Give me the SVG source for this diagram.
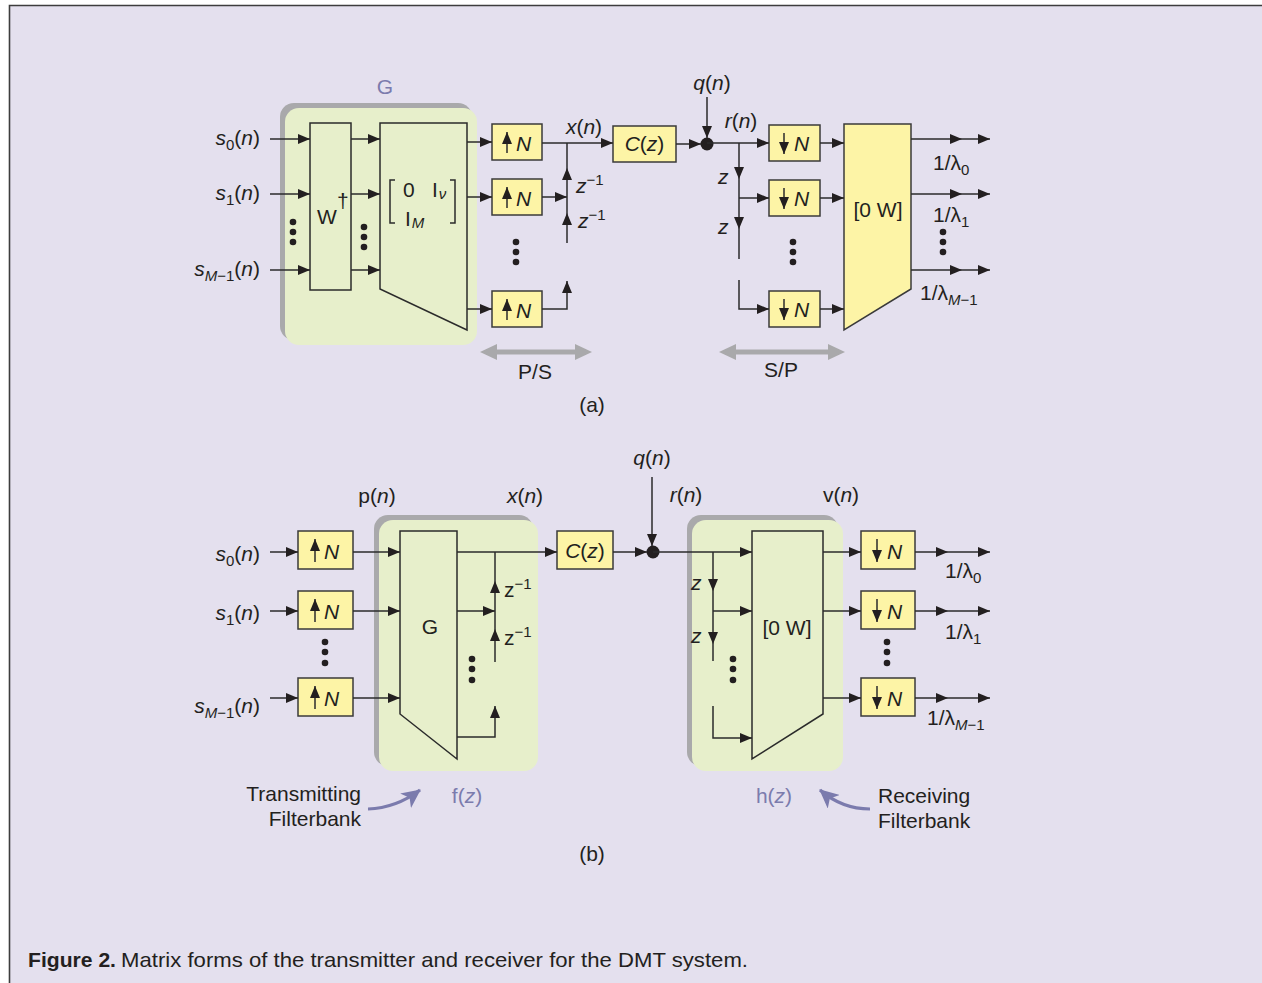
<svg xmlns="http://www.w3.org/2000/svg" width="1262" height="983" viewBox="0 0 1262 983">
<defs>
<marker id="ah" markerUnits="userSpaceOnUse" markerWidth="12" markerHeight="10" refX="12" refY="5" orient="auto"><path d="M0,0 L12,5 L0,10 z" fill="#231f20"/></marker>
<marker id="ap" markerUnits="userSpaceOnUse" markerWidth="20" markerHeight="18" refX="18" refY="9" orient="auto"><path d="M0,0 L19,9 L0,18 L5,9 z" fill="#7b7bad"/></marker>
<style>
.t{font-family:"Liberation Sans",Arial,sans-serif;font-size:21px;fill:#231f20}
.i{font-style:italic}
.p{fill:#7b7bad}
.ln{stroke:#2b2b2b;stroke-width:1.5;fill:none}
.ar{stroke:#2b2b2b;stroke-width:1.5;fill:none;marker-end:url(#ah)}
.box{fill:#fdf4a6;stroke:#3a3a3a;stroke-width:1.5}
.sh{fill:#a9a9ab}
.gr{fill:#e7efcb}
.dot{fill:#231f20}
.gray{fill:#a9a9ab}
</style>
</defs>
<rect x="0" y="0" width="1262" height="983" fill="#ffffff"/>
<rect x="9" y="5" width="1253" height="978" fill="#e4e0ee"/>
<path d="M9.5,983 V5.5 H1262" fill="none" stroke="#3d3d3d" stroke-width="1.6"/>

<!-- ===== (a) ===== -->
<g id="a-G">
<rect class="sh" x="280" y="103" width="192" height="237" rx="14"/>
<rect class="gr" x="285" y="108" width="192" height="237" rx="14"/>
<text class="t p" x="385" y="94" text-anchor="middle">G</text>
</g>
<g id="a-W">
<rect x="310" y="123" width="41" height="167" fill="none" stroke="#2b2b2b" stroke-width="1.5"/>
<text class="t" x="317" y="224" font-size="19">W</text>
<text class="t" x="337" y="208" font-size="13">†</text>
</g>
<g id="a-trap">
<polygon points="380,123 467,123 467,330 380,289" fill="none" stroke="#2b2b2b" stroke-width="1.5"/>
<path class="ln" d="M395,180 H390 V223 H395 M450,180 H455 V223 H450"/>
<text class="t" x="403" y="197" font-size="18">0</text>
<text class="t" x="432" y="197" font-size="18">I<tspan class="i" font-size="15" dx="1" dy="2">ν</tspan></text>
<text class="t" x="405" y="226" font-size="18">I<tspan class="i" font-size="15" dx="1" dy="2">M</tspan></text>
</g>
<g id="a-inputs">
<text class="t" x="260" y="145" text-anchor="end"><tspan class="i">s</tspan><tspan font-size="15" dy="5">0</tspan><tspan dy="-5">(</tspan><tspan class="i">n</tspan>)</text>
<text class="t" x="260" y="200" text-anchor="end"><tspan class="i">s</tspan><tspan font-size="15" dy="5">1</tspan><tspan dy="-5">(</tspan><tspan class="i">n</tspan>)</text>
<text class="t" x="260" y="276" text-anchor="end"><tspan class="i">s</tspan><tspan class="i" font-size="15" dy="5">M</tspan><tspan font-size="15">−1</tspan><tspan dy="-5">(</tspan><tspan class="i">n</tspan>)</text>
<circle class="dot" cx="293" cy="222" r="3.3"/><circle class="dot" cx="293" cy="232" r="3.3"/><circle class="dot" cx="293" cy="242" r="3.3"/>
<circle class="dot" cx="364" cy="227" r="3.3"/><circle class="dot" cx="364" cy="237" r="3.3"/><circle class="dot" cx="364" cy="247" r="3.3"/>
</g>
<g id="a-up1"><rect class="box" x="492" y="124" width="50" height="36"/><path class="ar" d="M507,153 V132"/><text class="t i" x="516" y="151">N</text></g>
<g id="a-up2"><rect class="box" x="492" y="179" width="50" height="36"/><path class="ar" d="M507,208 V187"/><text class="t i" x="516" y="206">N</text></g>
<g id="a-up3"><rect class="box" x="492" y="291" width="50" height="36"/><path class="ar" d="M507,320 V299"/><text class="t i" x="516" y="318">N</text></g>
<circle class="dot" cx="516" cy="242" r="3.3"/><circle class="dot" cx="516" cy="252" r="3.3"/><circle class="dot" cx="516" cy="262" r="3.3"/>
<g id="a-C"><rect class="box" x="613" y="126" width="63" height="36"/><text class="t" x="644.5" y="151" text-anchor="middle"><tspan class="i">C</tspan>(<tspan class="i">z</tspan>)</text></g>
<g id="a-junction"><circle class="dot" cx="707" cy="144" r="6.5"/></g>
<g id="a-dn1"><rect class="box" x="769" y="125" width="51" height="36"/><path class="ar" d="M784,133 V154"/><text class="t i" x="794" y="151">N</text></g>
<g id="a-dn2"><rect class="box" x="769" y="180" width="51" height="36"/><path class="ar" d="M784,188 V209"/><text class="t i" x="794" y="206">N</text></g>
<g id="a-dn3"><rect class="box" x="769" y="291" width="51" height="36"/><path class="ar" d="M784,299 V320"/><text class="t i" x="794" y="317">N</text></g>
<circle class="dot" cx="793" cy="242" r="3.3"/><circle class="dot" cx="793" cy="252" r="3.3"/><circle class="dot" cx="793" cy="262" r="3.3"/>
<g id="a-0W"><polygon points="844,124 911,124 911,289 844,330" fill="#fdf4a6" stroke="#3a3a3a" stroke-width="1.5"/><text class="t" x="878" y="217" text-anchor="middle">[0 W]</text></g>
<g id="a-labels">
<text class="t" x="584" y="134" text-anchor="middle"><tspan class="i">x</tspan>(<tspan class="i">n</tspan>)</text>
<text class="t" x="712" y="90" text-anchor="middle"><tspan class="i">q</tspan>(<tspan class="i">n</tspan>)</text>
<text class="t" x="741" y="128" text-anchor="middle"><tspan class="i">r</tspan>(<tspan class="i">n</tspan>)</text>
<text class="t" x="576" y="193"><tspan class="i">z</tspan><tspan font-size="15" dy="-8">−1</tspan></text>
<text class="t" x="578" y="228"><tspan class="i">z</tspan><tspan font-size="15" dy="-8">−1</tspan></text>
<text class="t i" x="718" y="184">z</text>
<text class="t i" x="718" y="234">z</text>
<text class="t" x="933" y="170" font-size="20">1/λ<tspan font-size="15" dy="5">0</tspan></text>
<text class="t" x="933" y="222" font-size="20">1/λ<tspan font-size="15" dy="5">1</tspan></text>
<text class="t" x="920" y="300" font-size="20">1/λ<tspan class="i" font-size="15" dy="5">M</tspan><tspan font-size="15">−1</tspan></text>
<circle class="dot" cx="943" cy="232" r="3.3"/><circle class="dot" cx="943" cy="242" r="3.3"/><circle class="dot" cx="943" cy="252" r="3.3"/>
<polygon class="gray" points="480,352 497,344 497,349.5 575,349.5 575,344 592,352 575,360 575,354.5 497,354.5 497,360"/>
<polygon class="gray" points="719,352 736,344 736,349.5 828,349.5 828,344 845,352 828,360 828,354.5 736,354.5 736,360"/>
<text class="t" x="535" y="379" text-anchor="middle">P/S</text>
<text class="t" x="781" y="377" text-anchor="middle">S/P</text>
<text class="t" x="592" y="412" text-anchor="middle" font-size="20">(a)</text>
</g>

<!-- ===== (b) ===== -->
<g id="b-f">
<rect class="sh" x="374" y="515" width="159" height="251" rx="14"/>
<rect class="gr" x="379" y="520" width="159" height="251" rx="14"/>
<polygon points="400,531 457,531 457,759 400,714" fill="none" stroke="#2b2b2b" stroke-width="1.5"/>
<text class="t" x="430" y="634" text-anchor="middle">G</text>
<circle class="dot" cx="472" cy="659" r="3.3"/><circle class="dot" cx="472" cy="669" r="3.3"/><circle class="dot" cx="472" cy="680" r="3.3"/>
<text class="t" x="504" y="597">z<tspan font-size="15" dy="-8">−1</tspan></text>
<text class="t" x="504" y="645">z<tspan font-size="15" dy="-8">−1</tspan></text>
</g>
<g id="b-h">
<rect class="sh" x="687" y="515" width="151" height="251" rx="14"/>
<rect class="gr" x="692" y="520" width="151" height="251" rx="14"/>
<polygon points="752,531 823,531 823,714 752,759" fill="none" stroke="#2b2b2b" stroke-width="1.5"/>
<text class="t" x="787" y="635" text-anchor="middle">[0 W]</text>
<circle class="dot" cx="733" cy="659" r="3.3"/><circle class="dot" cx="733" cy="669" r="3.3"/><circle class="dot" cx="733" cy="680" r="3.3"/>
<text class="t i" x="691" y="590">z</text>
<text class="t i" x="691" y="643">z</text>
</g>
<g id="b-inputs">
<text class="t" x="260" y="561" text-anchor="end"><tspan class="i">s</tspan><tspan font-size="15" dy="5">0</tspan><tspan dy="-5">(</tspan><tspan class="i">n</tspan>)</text>
<text class="t" x="260" y="620" text-anchor="end"><tspan class="i">s</tspan><tspan font-size="15" dy="5">1</tspan><tspan dy="-5">(</tspan><tspan class="i">n</tspan>)</text>
<text class="t" x="260" y="713" text-anchor="end"><tspan class="i">s</tspan><tspan class="i" font-size="15" dy="5">M</tspan><tspan font-size="15">−1</tspan><tspan dy="-5">(</tspan><tspan class="i">n</tspan>)</text>
<circle class="dot" cx="325" cy="642" r="3.3"/><circle class="dot" cx="325" cy="652" r="3.3"/><circle class="dot" cx="325" cy="663" r="3.3"/>
</g>
<g id="b-up1"><rect class="box" x="298" y="531" width="55" height="38"/><path class="ar" d="M315,562 V539"/><text class="t i" x="324" y="559">N</text></g>
<g id="b-up2"><rect class="box" x="298" y="591" width="55" height="38"/><path class="ar" d="M315,622 V599"/><text class="t i" x="324" y="619">N</text></g>
<g id="b-up3"><rect class="box" x="298" y="678" width="55" height="38"/><path class="ar" d="M315,709 V686"/><text class="t i" x="324" y="706">N</text></g>
<g id="b-C"><rect class="box" x="557" y="531" width="56" height="38"/><text class="t" x="585" y="558" text-anchor="middle"><tspan class="i">C</tspan>(<tspan class="i">z</tspan>)</text></g>
<g id="b-junction"><circle class="dot" cx="653" cy="552" r="6.5"/></g>
<g id="b-dn1"><rect class="box" x="861" y="531" width="54" height="38"/><path class="ar" d="M877,539 V562"/><text class="t i" x="887" y="559">N</text></g>
<g id="b-dn2"><rect class="box" x="861" y="591" width="54" height="38"/><path class="ar" d="M877,599 V622"/><text class="t i" x="887" y="619">N</text></g>
<g id="b-dn3"><rect class="box" x="861" y="678" width="54" height="38"/><path class="ar" d="M877,686 V709"/><text class="t i" x="887" y="706">N</text></g>
<g id="b-labels">
<text class="t" x="377" y="503" text-anchor="middle">p(<tspan class="i">n</tspan>)</text>
<text class="t" x="525" y="503" text-anchor="middle"><tspan class="i">x</tspan>(<tspan class="i">n</tspan>)</text>
<text class="t" x="652" y="465" text-anchor="middle"><tspan class="i">q</tspan>(<tspan class="i">n</tspan>)</text>
<text class="t" x="686" y="502" text-anchor="middle"><tspan class="i">r</tspan>(<tspan class="i">n</tspan>)</text>
<text class="t" x="841" y="502" text-anchor="middle">v(<tspan class="i">n</tspan>)</text>
<text class="t" x="945" y="578" font-size="20">1/λ<tspan font-size="15" dy="5">0</tspan></text>
<text class="t" x="945" y="639" font-size="20">1/λ<tspan font-size="15" dy="5">1</tspan></text>
<text class="t" x="927" y="725" font-size="20">1/λ<tspan class="i" font-size="15" dy="5">M</tspan><tspan font-size="15">−1</tspan></text>
<circle class="dot" cx="887" cy="642" r="3.3"/><circle class="dot" cx="887" cy="652" r="3.3"/><circle class="dot" cx="887" cy="663" r="3.3"/>
<text class="t p" x="467" y="803" text-anchor="middle">f(<tspan class="i">z</tspan>)</text>
<text class="t p" x="774" y="803" text-anchor="middle">h(<tspan class="i">z</tspan>)</text>
<text class="t" x="361" y="801" text-anchor="end">Transmitting</text>
<text class="t" x="361" y="826" text-anchor="end">Filterbank</text>
<text class="t" x="878" y="803">Receiving</text>
<text class="t" x="878" y="828">Filterbank</text>
<text class="t" x="592" y="861" text-anchor="middle" font-size="20">(b)</text>
</g>

<g id="connectors">
<path class="ar" d="M270,139 H310"/><path class="ar" d="M270,194 H310"/><path class="ar" d="M270,270 H310"/>
<path class="ar" d="M351,139 H380"/><path class="ar" d="M351,194 H380"/><path class="ar" d="M351,270 H380"/>
<path class="ar" d="M467,142 H492"/><path class="ar" d="M467,197 H492"/><path class="ar" d="M467,309 H492"/>
<path class="ar" d="M542,143 H613"/>
<path class="ar" d="M542,197 H567"/>
<path class="ar" d="M567,243 V213"/><path class="ar" d="M567,213 V168"/><path class="ln" d="M567,168 V143"/>
<path class="ar" d="M542,309 H567 V281"/>
<path class="ar" d="M676,144 H701"/>
<path class="ar" d="M707,97 V138"/>
<path class="ar" d="M707,143 H769"/>
<path class="ar" d="M739,143 V179"/><path class="ar" d="M739,179 V229"/><path class="ln" d="M739,229 V259"/>
<path class="ar" d="M739,198 H769"/>
<path class="ar" d="M739,280 V309 H769"/>
<path class="ar" d="M820,143 H844"/><path class="ar" d="M820,198 H844"/><path class="ar" d="M820,309 H844"/>
<path class="ar" d="M911,139 H962"/><path class="ar" d="M962,139 H990"/>
<path class="ar" d="M911,194 H962"/><path class="ar" d="M962,194 H990"/>
<path class="ar" d="M911,270 H962"/><path class="ar" d="M962,270 H990"/>
<path class="ar" d="M270,552 H298"/><path class="ar" d="M270,611 H298"/><path class="ar" d="M270,698 H298"/>
<path class="ar" d="M353,552 H400"/><path class="ar" d="M353,611 H400"/><path class="ar" d="M353,698 H400"/>
<path class="ar" d="M457,552 H557"/>
<path class="ar" d="M457,611 H495"/>
<path class="ar" d="M495,662 V629"/><path class="ar" d="M495,629 V581"/><path class="ln" d="M495,581 V552"/>
<path class="ar" d="M457,737 H495 V706"/>
<path class="ar" d="M613,552 H647"/>
<path class="ar" d="M652,477 V546"/>
<path class="ar" d="M653,552 H752"/>
<path class="ar" d="M713,552 V591"/><path class="ar" d="M713,591 V644"/><path class="ln" d="M713,644 V661"/>
<path class="ar" d="M713,611 H752"/>
<path class="ar" d="M713,706 V738 H752"/>
<path class="ar" d="M823,552 H861"/><path class="ar" d="M823,611 H861"/><path class="ar" d="M823,698 H861"/>
<path class="ar" d="M915,552 H948"/><path class="ar" d="M948,552 H990"/>
<path class="ar" d="M915,611 H948"/><path class="ar" d="M948,611 H990"/>
<path class="ar" d="M915,698 H948"/><path class="ar" d="M948,698 H990"/>
<path d="M368,809 Q396,808 420,790" fill="none" stroke="#7b7bad" stroke-width="3.2" marker-end="url(#ap)"/>
<path d="M870,809 Q842,809 820,790" fill="none" stroke="#7b7bad" stroke-width="3.2" marker-end="url(#ap)"/>
</g>

<g id="caption">
<text class="t" x="28" y="967" font-size="20" font-weight="bold" textLength="88" lengthAdjust="spacingAndGlyphs">Figure 2.</text>
<text class="t" x="121" y="967" font-size="20" textLength="627" lengthAdjust="spacingAndGlyphs">Matrix forms of the transmitter and receiver for the DMT system.</text>
</g>
</svg>
